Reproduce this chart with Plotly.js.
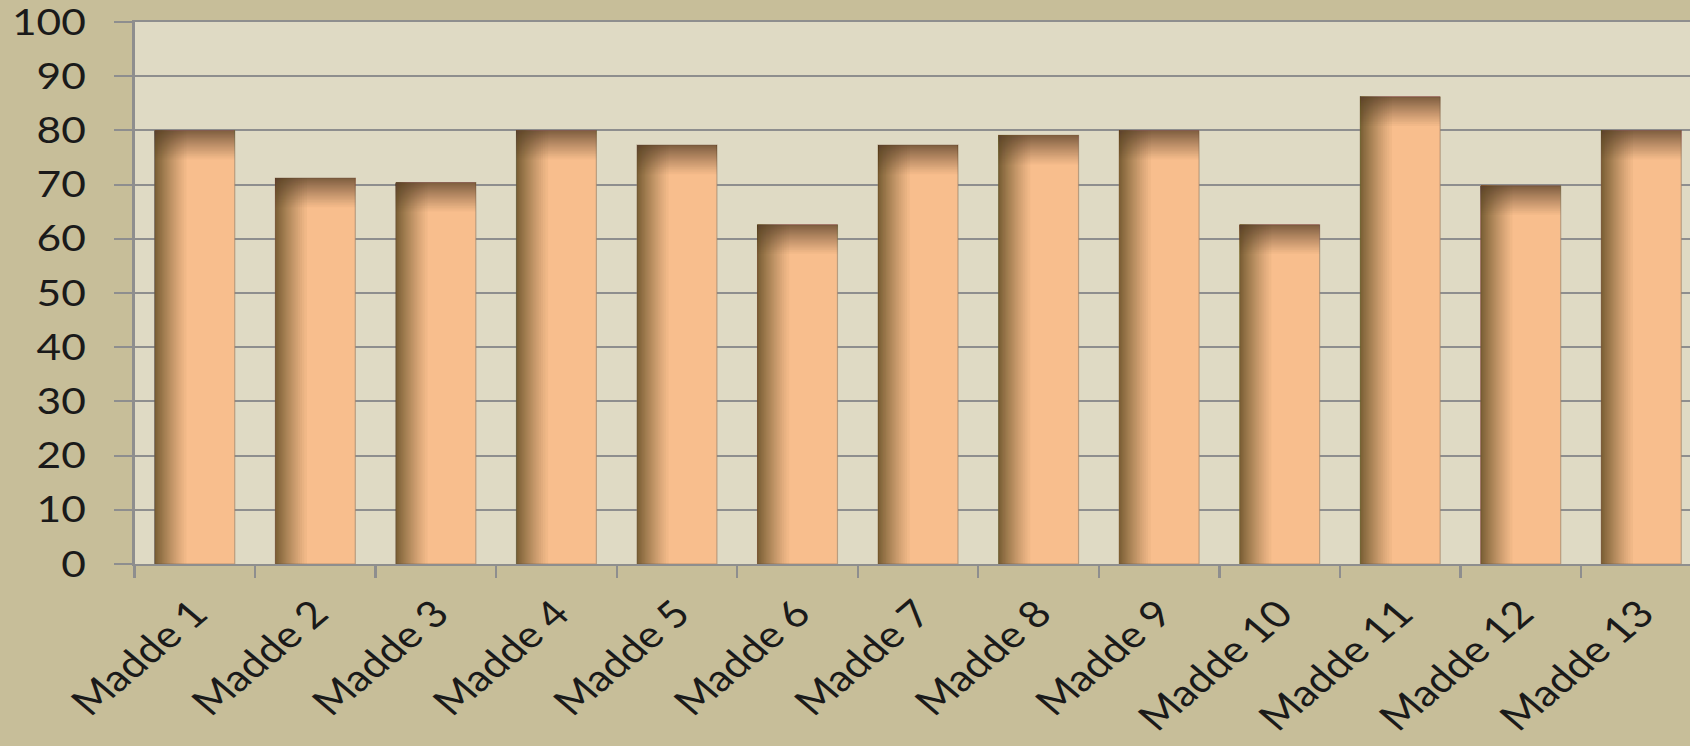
<!DOCTYPE html>
<html>
<head>
<meta charset="utf-8">
<script src="https://cdn.plot.ly/plotly-3.0.1.min.js"></script>
<style>
  html, body { margin: 0; padding: 0; overflow: hidden; background: #c7be99; width: 1690px; height: 746px; }
  #chart { width: 1450px; height: 746px; transform: scaleX(1.18); transform-origin: 0 0; }
</style>
</head>
<body>
<div id="chart"></div>
<script>
// ---- data ----
const categories = ["Madde 1", "Madde 2", "Madde 3", "Madde 4", "Madde 5", "Madde 6", "Madde 7",
                    "Madde 8", "Madde 9", "Madde 10", "Madde 11", "Madde 12", "Madde 13"];
const values = [80, 71.2, 70.4, 80, 77.3, 62.6, 77.3, 79.1, 80, 62.6, 86.2, 69.8, 80];
const yTickValues = [0, 10, 20, 30, 40, 50, 60, 70, 80, 90, 100];

// ---- styling ----
const barWidth = 0.663;
const barOffset = -barWidth / 2;
const peach = "#f8be8d";
const fontFamily = "Lato, 'Open Sans', sans-serif";

// smooth inner-shadow layers: returns extents (from the edge) of N stacked translucent layers
function shadeLayers(N, Dmax, g, p) {
  const a = 1 - Math.pow(1 - Dmax, 1 / N);
  const out = [];
  for (let j = 1; j <= N; j++) {
    const Dj = 1 - Math.pow(1 - a, j - 0.5);
    out.push(g * (1 - Math.pow(Math.min(Dj / Dmax, 1), 1 / p)));
  }
  return { alpha: a, extents: out };
}

const traces = [];
traces.push({
  type: "bar", x: categories, y: values,
  width: barWidth, offset: barOffset,
  marker: { color: peach, line: { color: "rgba(150,125,100,0.6)", width: 1 } },
  hoverinfo: "x+y", showlegend: false
});

// left inner shadow
const leftShade = shadeLayers(30, 0.78, barWidth * 0.42, 1.2);
leftShade.extents.forEach(w => {
  if (w <= 0.001) return;
  traces.push({
    type: "bar", x: categories, y: values,
    width: w, offset: barOffset,
    marker: { color: `rgba(100,70,45,${leftShade.alpha.toFixed(4)})`, line: { width: 0 } },
    hoverinfo: "skip", showlegend: false
  });
});
// top inner shadow
const topShade = shadeLayers(30, 0.72, 5.6, 1.1);
topShade.extents.forEach(d => {
  if (d <= 0.01) return;
  traces.push({
    type: "bar", x: categories,
    y: values.map(() => d),
    base: values.map(v => v - d),
    width: barWidth, offset: barOffset,
    marker: { color: `rgba(100,70,45,${topShade.alpha.toFixed(4)})`, line: { width: 0 } },
    hoverinfo: "skip", showlegend: false
  });
});

const layout = {
  width: 1450, height: 746,
  margin: { l: 114, r: 8, t: 22, b: 182 },
  paper_bgcolor: "#c7be99",
  plot_bgcolor: "#dfdac4",
  barmode: "overlay",
  showlegend: false,
  font: { family: fontFamily, color: "#1a1a1a", size: 35 },
  xaxis: {
    type: "category",
    tickangle: -45,
    tickson: "boundaries",
    ticks: "outside", ticklen: 12, tickwidth: 2, tickcolor: "#8e8e8e",
    showline: true, mirror: true, linecolor: "#8e8e8e", linewidth: 2,
    showgrid: false, zeroline: false,
    tickfont: { family: fontFamily, size: 37, color: "#1a1a1a" },
    ticklabelstandoff: 11,
    ticklabeloverflow: "allow",
    fixedrange: true
  },
  yaxis: {
    range: [0, 100],
    tickvals: yTickValues,
    ticktext: yTickValues.map(String),
    ticks: "outside", ticklen: 15, tickwidth: 2, tickcolor: "#8e8e8e",
    showline: true, linecolor: "#8e8e8e", linewidth: 2,
    showgrid: true, gridcolor: "#8e8e8e", gridwidth: 2,
    zeroline: false,
    tickfont: { family: fontFamily, size: 36, color: "#1a1a1a" },
    ticklabelstandoff: 17,
    ticklabeloverflow: "allow",
    fixedrange: true
  }
};

Plotly.newPlot("chart", traces, layout, { displayModeBar: false, staticPlot: true });
</script>
</body>
</html>
